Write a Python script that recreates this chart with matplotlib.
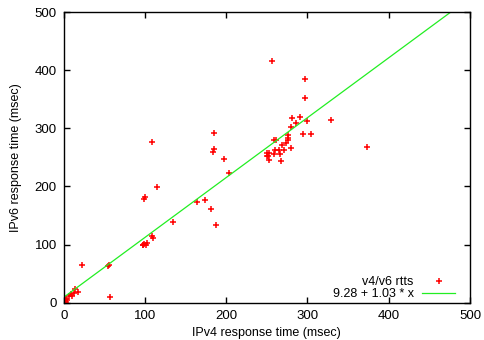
import numpy as np
import matplotlib
matplotlib.use('Agg')
import matplotlib.pyplot as plt

plt.rcParams['font.family'] = ['Liberation Sans', 'DejaVu Sans']

# IPv4 / IPv6 round trip times (msec)
v4 = [256.8, 296.5, 297.3, 281, 291, 285.5, 279.7, 299, 329.4, 295, 304,
      276, 276, 276, 273.5, 268.7, 279.7, 271.5, 265.4, 266.6, 267,
      259, 261, 260, 258.4, 253, 250, 250, 252, 253, 372.8,
      185.4, 184, 185.4, 197, 204, 108.3, 115, 98.4, 100,
      164, 174, 181, 188, 134, 108.3, 110.3,
      97, 99, 101, 102, 98, 22.6, 55, 56, 56.6,
      14.4, 17.6, 12.7, 9.8, 7, 8.6,
      0.5, 1, 2, 3, 4, 1.5, 2.5]
v6 = [415, 384, 351.5, 318, 319, 308.5, 303, 313, 314, 290.7, 290.7,
      288, 284, 280, 275, 272, 266.6, 262, 263, 255.7, 243.7,
      280, 280, 262.6, 255, 258, 257, 252, 253, 245, 267,
      292, 259, 264, 247.7, 223, 277, 198.4, 178, 181,
      173, 177, 161, 134, 139, 115, 110.7,
      99, 101, 100, 102, 100, 65, 63, 64, 10.3,
      23, 18, 17, 12, 12, 15,
      1, 3, 5, 2, 4, 0.5, 6]

fit_a = 9.28
fit_b = 1.03

fig = plt.figure(figsize=(4.84, 3.4), dpi=100)
ax = fig.add_axes([0.1316, 0.1097, 0.9711 - 0.1316, 0.8550])

ax.plot(v4, v6, '+', color='red', markersize=5, mew=1.1, label='v4/v6 rtts')
xs = np.linspace(0, 500, 200)
ax.plot(xs, fit_a + fit_b * xs, color='#22ee22', linewidth=0.9,
        label='9.28 + 1.03 * x')

ax.set_xlim(0, 500)
ax.set_ylim(0, 500)
ax.set_xticks(range(0, 501, 100))
ax.set_yticks(range(0, 501, 100))
ax.tick_params(direction='in', top=True, right=True, length=4, width=1,
               labelsize=9.5, pad=5)
for s in ax.spines.values():
    s.set_linewidth(1)

ax.set_xlabel('IPv4 response time (msec)', fontsize=9, labelpad=4)
ax.set_ylabel('IPv6 response time (msec)', fontsize=9, labelpad=9)

leg = ax.legend(loc='lower right', bbox_to_anchor=(0.972, -0.004),
                frameon=False, fontsize=9, markerfirst=False,
                handlelength=2.6, labelspacing=0.0, borderaxespad=0,
                borderpad=0.3, handletextpad=0.7)
for t in leg.get_texts():
    t.set_ha('right')

fig.savefig('out.png', dpi=100)
